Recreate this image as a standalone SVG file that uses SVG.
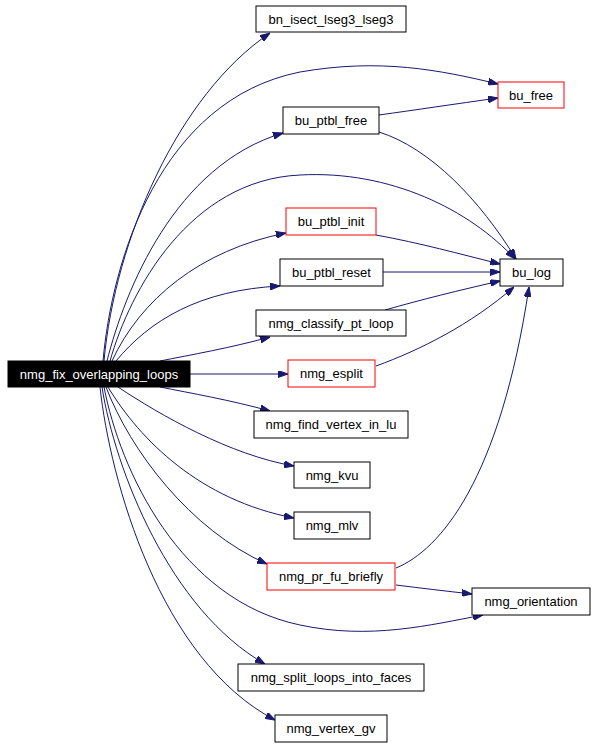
<svg xmlns="http://www.w3.org/2000/svg" width="595" height="747" viewBox="0 0 595 747">
<style>
.n rect{fill:#fff;stroke:#000;stroke-width:1}
.n.red rect{stroke:#ff0000}
.n.main rect{fill:#000;stroke:#000}
.n text{font-family:"Liberation Sans",Arial,sans-serif;font-size:13px;text-anchor:middle;fill:#000}
.n.main text{fill:#fff}
.e path{fill:none;stroke:#191970;stroke-width:1;marker-end:url(#ah)}
</style>
<defs>
<marker id="ah" viewBox="0 0 10 7" refX="10" refY="3.5" markerWidth="10" markerHeight="7" markerUnits="userSpaceOnUse" orient="auto">
<path d="M0,0 L10,3.5 L0,7 z" fill="#191970" stroke="#191970"/>
</marker>
</defs>
<rect width="595" height="747" fill="#fff"/>
<g id="edges" class="e">
<path d="M104,361 C115,240 178,95 270,33"/>
<path d="M103,361 C112,260 160,100 300,72 C380,58 440,70 498,84"/>
<path d="M107,361 C125,290 175,165 283,133"/>
<path d="M110,361 C130,290 190,180 300,175 C390,170 470,210 515,259"/>
<path d="M112,361 C140,300 200,250 286,233"/>
<path d="M116,361 C150,320 200,290 280,286"/>
<path d="M160,361 C190,355 230,348 270,337"/>
<path d="M190,374 L288,374"/>
<path d="M160,387 C190,393 230,400 270,411"/>
<path d="M118,387 C160,415 230,455 294,466"/>
<path d="M108,387 C140,440 200,500 294,518"/>
<path d="M106,387 C130,450 190,530 267,564"/>
<path d="M104,387 C120,470 180,600 300,625 C370,640 430,625 483,615"/>
<path d="M102,387 C115,470 170,610 265,664"/>
<path d="M100,387 C110,480 160,660 275,720"/>
<path d="M379,115 C415,110 455,104 498,98"/>
<path d="M379,132 C430,148 480,200 516,259"/>
<path d="M376,235 C420,243 460,254 500,264"/>
<path d="M383,272 L500,272"/>
<path d="M385,310 C420,300 460,290 500,281"/>
<path d="M376,366 C420,350 470,325 514,287"/>
<path d="M396,568 C440,550 500,480 529,287"/>
<path d="M396,585 C420,588 445,591 472,594"/>
</g>
<g id="nmg_fix_overlapping_loops" class="n main"><rect x="8" y="361" width="182" height="26"/><text x="99" y="378.5">nmg_fix_overlapping_loops</text></g>
<g id="bn_isect_lseg3_lseg3" class="n"><rect x="256" y="6" width="150" height="26"/><text x="331" y="23.5">bn_isect_lseg3_lseg3</text></g>
<g id="bu_free" class="n red"><rect x="498" y="82" width="66" height="26"/><text x="531" y="99.5">bu_free</text></g>
<g id="bu_ptbl_free" class="n"><rect x="283" y="107" width="96" height="27"/><text x="331" y="125">bu_ptbl_free</text></g>
<g id="bu_ptbl_init" class="n red"><rect x="286" y="208" width="90" height="27"/><text x="331" y="226">bu_ptbl_init</text></g>
<g id="bu_ptbl_reset" class="n"><rect x="280" y="259" width="103" height="27"/><text x="331.5" y="277">bu_ptbl_reset</text></g>
<g id="bu_log" class="n"><rect x="500" y="259" width="63" height="27"/><text x="531.5" y="277">bu_log</text></g>
<g id="nmg_classify_pt_loop" class="n"><rect x="256" y="310" width="150" height="26"/><text x="331" y="327.5">nmg_classify_pt_loop</text></g>
<g id="nmg_esplit" class="n red"><rect x="288" y="360" width="87" height="27"/><text x="331.5" y="378">nmg_esplit</text></g>
<g id="nmg_find_vertex_in_lu" class="n"><rect x="254" y="411" width="154" height="27"/><text x="331" y="429">nmg_find_vertex_in_lu</text></g>
<g id="nmg_kvu" class="n"><rect x="294" y="462" width="76" height="26"/><text x="332" y="479.5">nmg_kvu</text></g>
<g id="nmg_mlv" class="n"><rect x="294" y="512" width="76" height="27"/><text x="332" y="530">nmg_mlv</text></g>
<g id="nmg_pr_fu_briefly" class="n red"><rect x="267" y="563" width="128" height="27"/><text x="331" y="581">nmg_pr_fu_briefly</text></g>
<g id="nmg_orientation" class="n"><rect x="472" y="588" width="118" height="27"/><text x="531" y="606">nmg_orientation</text></g>
<g id="nmg_split_loops_into_faces" class="n"><rect x="238" y="664" width="186" height="27"/><text x="331" y="682">nmg_split_loops_into_faces</text></g>
<g id="nmg_vertex_gv" class="n"><rect x="275" y="715" width="112" height="27"/><text x="331" y="733">nmg_vertex_gv</text></g>
</svg>
